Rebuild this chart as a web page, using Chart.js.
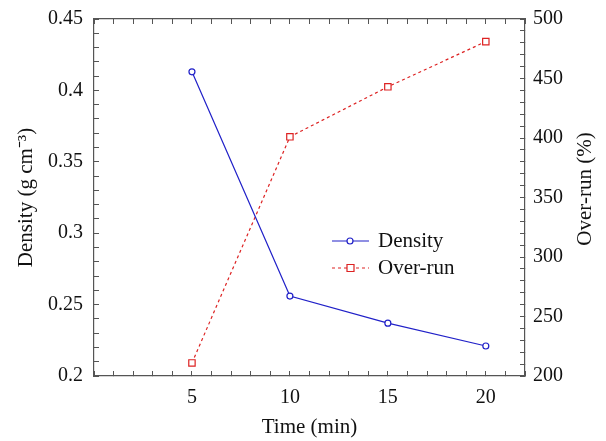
<!DOCTYPE html>
<html>
<head>
<meta charset="utf-8">
<script src="https://cdn.jsdelivr.net/npm/chart.js@4"></script>
<style>
  html, body { margin: 0; padding: 0; background: #fff; }
  #wrap { width: 606px; height: 441px; }
</style>
</head>
<body>
<div id="wrap"><canvas id="chart" width="606" height="441"></canvas></div>
<script>
// Data
const times = [5, 10, 15, 20];
const density = [0.413, 0.256, 0.237, 0.221];
const overRun = [211, 401, 443, 481];

const blue = '#2020c8';
const red = '#dd2222';
const axisColor = '#555';
const serif = "'Liberation Serif', 'Times New Roman', serif";

// Legend inside the plot + right title reading bottom-to-top
const extras = {
  id: 'extras',
  afterDraw(chart) {
    const { ctx, chartArea } = chart;
    ctx.save();
    ctx.font = '21px ' + serif;
    ctx.fillStyle = '#111';
    ctx.textBaseline = 'middle';

    const lx = chartArea.left + 238;
    const rows = [
      { y: chartArea.top + 222, label: 'Density', color: blue, dash: [], shape: 'circle' },
      { y: chartArea.top + 249, label: 'Over-run', color: red, dash: [3, 3], shape: 'rect' }
    ];
    rows.forEach(r => {
      ctx.strokeStyle = r.color;
      ctx.lineWidth = 1.2;
      ctx.setLineDash(r.dash);
      ctx.beginPath();
      ctx.moveTo(lx, r.y);
      ctx.lineTo(lx + 37, r.y);
      ctx.stroke();
      ctx.setLineDash([]);
      ctx.fillStyle = '#fff';
      ctx.beginPath();
      if (r.shape === 'circle') ctx.arc(lx + 18, r.y, 3, 0, Math.PI * 2);
      else ctx.rect(lx + 15, r.y - 3.5, 7, 7);
      ctx.fill();
      ctx.stroke();
      ctx.fillStyle = '#111';
      ctx.textAlign = 'left';
      ctx.fillText(r.label, lx + 46, r.y);
    });

    ctx.translate(585, 189);
    ctx.rotate(-Math.PI / 2);
    ctx.textAlign = 'center';
    ctx.fillText('Over-run (%)', 0, 0);
    ctx.restore();
  }
};

const edgeGrid = {
  drawOnChartArea: false,
  drawTicks: true,
  tickLength: -5,
  color: axisColor,
  lineWidth: 1
};
const edgeBorder = { color: axisColor, width: 1.2 };
const tickFont = { family: serif, size: 20 };

// fixed box sizes so the plot area lands where the figure has it
const fixW = w => s => { s.width = w; s.paddingTop = 0; s.paddingBottom = 0; };
const fixH = h => s => { s.height = h; s.paddingLeft = 0; s.paddingRight = 0; };

new Chart(document.getElementById('chart'), {
  type: 'line',
  data: {
    datasets: [
      {
        label: 'Density',
        data: times.map((t, i) => ({ x: t, y: density[i] })),
        yAxisID: 'y',
        borderColor: blue,
        borderWidth: 1.2,
        pointStyle: 'circle',
        pointRadius: 3,
        pointBorderWidth: 1.2,
        pointBackgroundColor: '#fff',
        pointBorderColor: blue,
        tension: 0
      },
      {
        label: 'Over-run',
        data: times.map((t, i) => ({ x: t, y: overRun[i] })),
        yAxisID: 'y2',
        borderColor: red,
        borderWidth: 1.2,
        borderDash: [3, 3],
        pointStyle: 'rect',
        pointRadius: 4.5,
        pointBorderWidth: 1.2,
        pointBackgroundColor: '#fff',
        pointBorderColor: red,
        tension: 0
      }
    ]
  },
  options: {
    responsive: false,
    animation: false,
    layout: { padding: 0 },
    plugins: {
      legend: { display: false },
      tooltip: { enabled: false }
    },
    scales: {
      x: {
        type: 'linear',
        position: 'bottom',
        min: 0,
        max: 22,
        grid: edgeGrid,
        border: edgeBorder,
        ticks: {
          stepSize: 1,
          autoSkip: false,
          maxRotation: 0,
          padding: 15,
          color: '#111',
          font: tickFont,
          callback: v => (v > 0 && v % 5 === 0 ? String(v) : '')
        },
        title: {
          display: true,
          text: 'Time (min)',
          color: '#111',
          font: { family: serif, size: 21 },
          padding: { top: 0, bottom: 1 }
        },
        afterFit: fixH(65)
      },
      xTop: {
        type: 'linear',
        position: 'top',
        min: 0,
        max: 22,
        grid: edgeGrid,
        border: edgeBorder,
        ticks: { stepSize: 1, autoSkip: false, display: false },
        afterFit: fixH(19)
      },
      y: {
        type: 'linear',
        position: 'left',
        min: 0.2,
        max: 0.45,
        grid: edgeGrid,
        border: edgeBorder,
        ticks: {
          stepSize: 0.01,
          autoSkip: false,
          padding: 16,
          color: '#111',
          font: tickFont,
          callback: v => {
            const c = Math.round(v * 100);
            return c % 5 === 0 ? String(c / 100) : '';
          }
        },
        title: {
          display: true,
          text: 'Density (g cm⁻³)',
          color: '#111',
          font: { family: serif, size: 21 },
          padding: { top: 14, bottom: 0 }
        },
        afterFit: fixW(94)
      },
      y2: {
        type: 'linear',
        position: 'right',
        min: 200,
        max: 500,
        grid: edgeGrid,
        border: edgeBorder,
        ticks: {
          stepSize: 10,
          autoSkip: false,
          padding: 13,
          color: '#111',
          font: tickFont,
          callback: v => (Math.round(v) % 50 === 0 ? String(Math.round(v)) : '')
        },
        afterFit: fixW(81)
      }
    }
  },
  plugins: [extras]
});
</script>
</body>
</html>
